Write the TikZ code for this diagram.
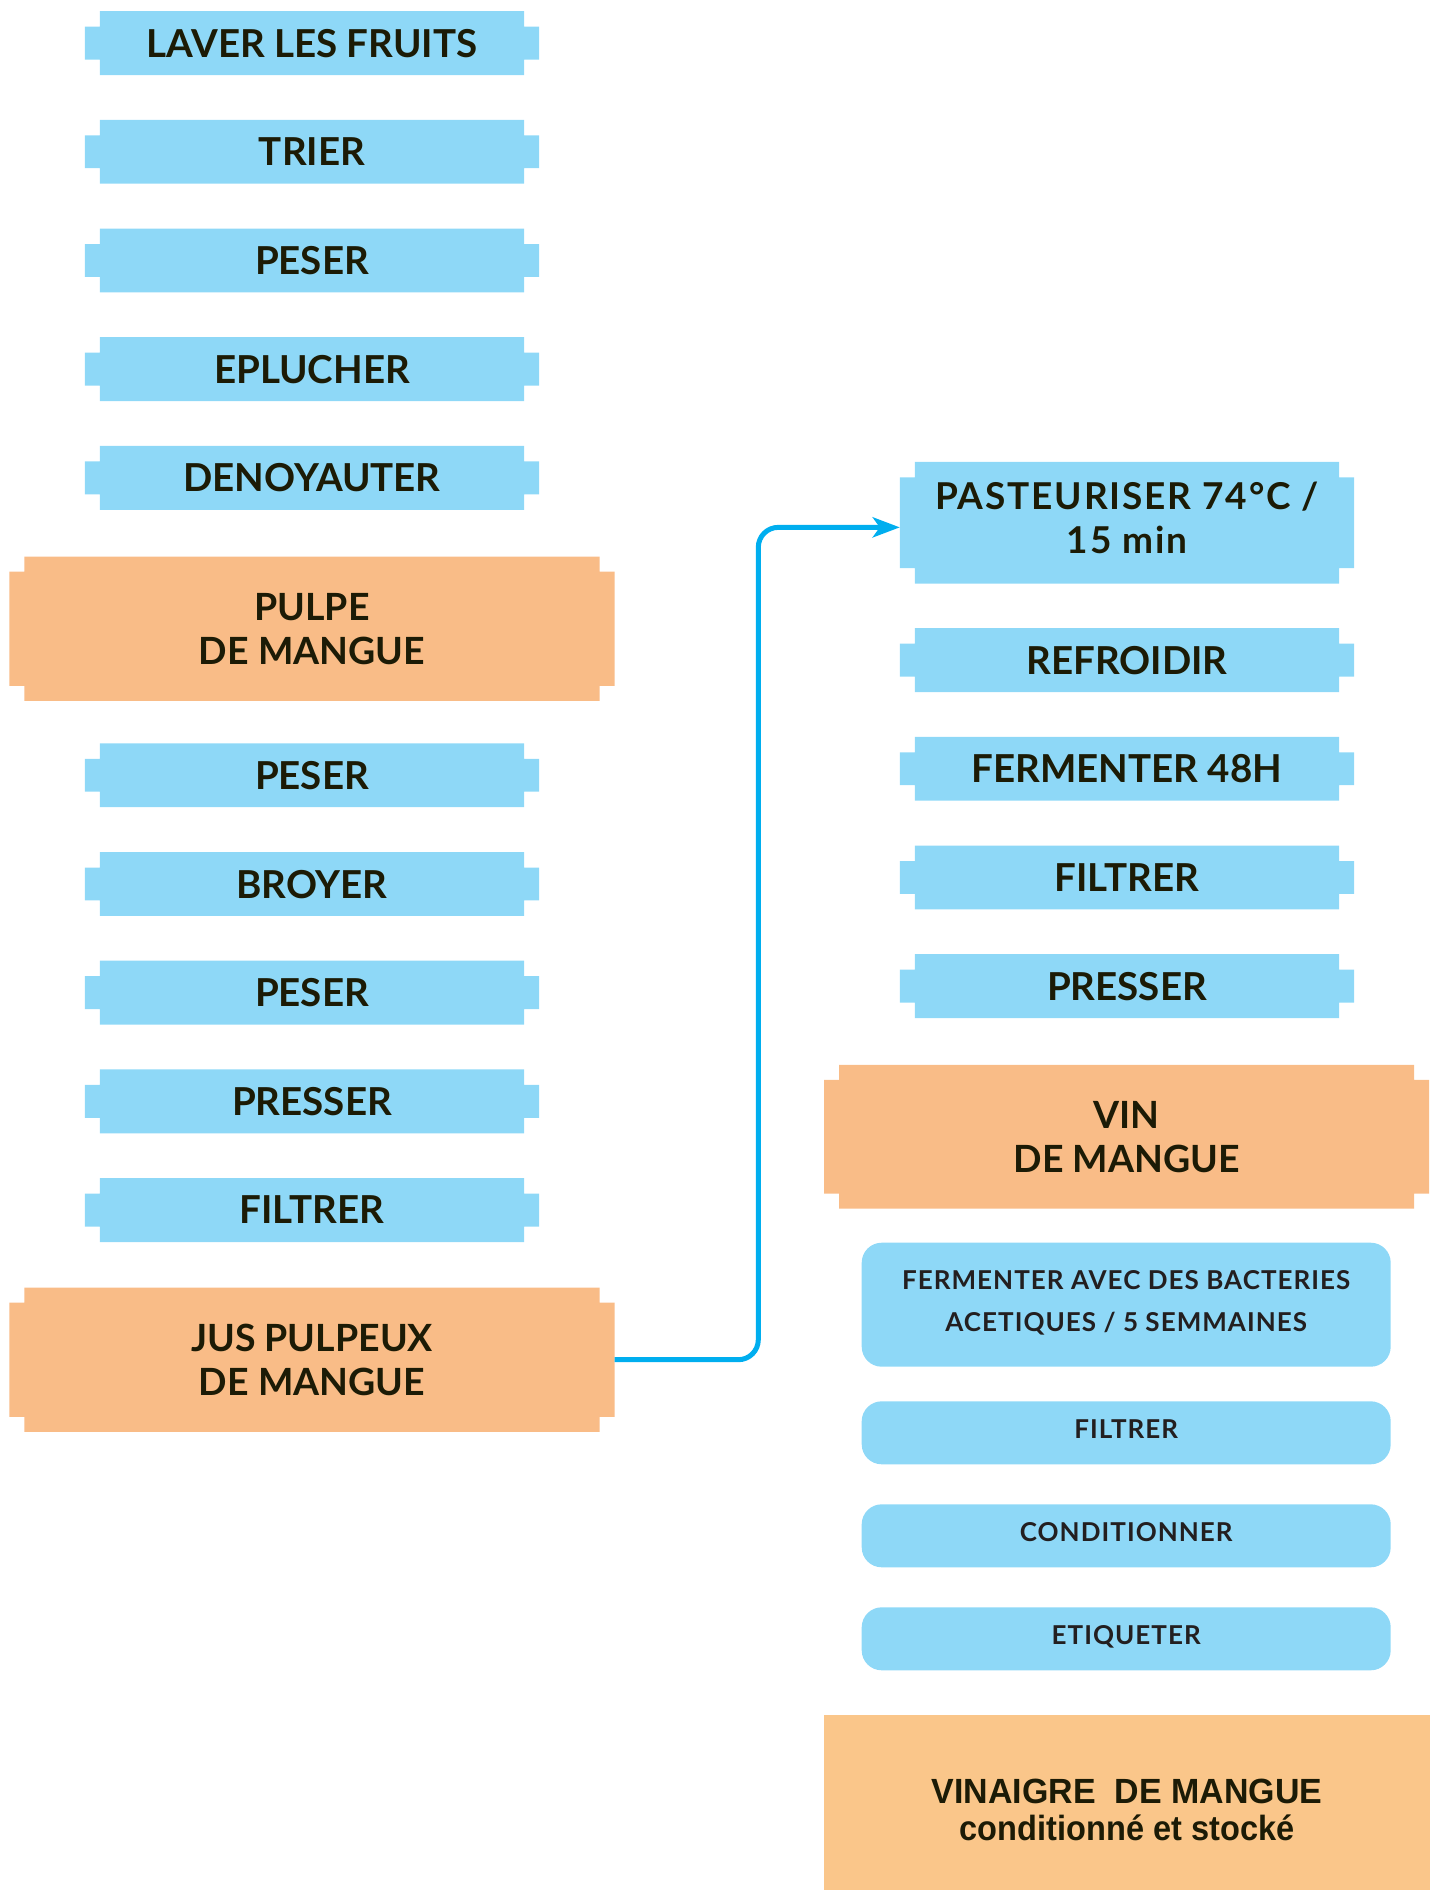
\documentclass[tikz,border=0pt]{standalone}
\usepackage{fontspec}
\usetikzlibrary{arrows.meta}
\newfontfamily\boxfont{Lato}
\newfontfamily\roundfont{Lato}[LetterSpace=4]
\newfontfamily\heatfont{Lato}[LetterSpace=5]
\newfontfamily\condfont{Liberation Sans}[FakeStretch=0.97]
\newfontfamily\condfontB{Liberation Sans}[FakeStretch=0.93]
\definecolor{stepblue}{HTML}{8ED8F7}
\definecolor{prodorange}{HTML}{F9BC87}
\definecolor{endorange}{HTML}{FAC68A}
\definecolor{flowcyan}{HTML}{00AEEF}
\definecolor{ink}{HTML}{1C1B06}
\definecolor{inkgrey}{HTML}{231F20}
\pgfdeclarelayer{bg}
\pgfsetlayers{bg,main}

% fill a rectangle with the four corners cut away (side tabs)
\newcommand\notchfill[4]{%
  \begin{pgfonlayer}{bg}
  \fill[#2] ([xshift=#3]#1.north west) -- ([xshift=-#3]#1.north east)
    -- ([xshift=-#3,yshift=-#4]#1.north east) -- ([yshift=-#4]#1.north east)
    -- ([yshift=#4]#1.south east) -- ([xshift=-#3,yshift=#4]#1.south east)
    -- ([xshift=-#3]#1.south east) -- ([xshift=#3]#1.south west)
    -- ([xshift=#3,yshift=#4]#1.south west) -- ([yshift=#4]#1.south west)
    -- ([yshift=-#4]#1.north west) -- ([xshift=#3,yshift=-#4]#1.north west) -- cycle;
  \end{pgfonlayer}}

\tikzset{
  stepbox/.style={rectangle, inner sep=0pt, minimum width=454pt, minimum height=63.5pt,
    font=\boxfont\bfseries\fontsize{38.5}{44.4}\selectfont, text=ink, text depth=0pt, align=center},
  prodbox/.style={stepbox, minimum width=605pt, minimum height=144pt,
    font=\boxfont\bfseries\fontsize{37.5}{44.4}\selectfont},
  heatbox/.style={stepbox, minimum height=121.3pt, text depth=10pt,
    font=\heatfont\bfseries\fontsize{37}{44.4}\selectfont},
  roundbox/.style={rectangle, rounded corners=20pt, fill=stepblue, inner sep=0pt,
    minimum width=529pt, minimum height=63pt, text depth=7pt,
    font=\roundfont\bfseries\fontsize{26}{42.3}\selectfont, text=inkgrey, align=center},
  endline/.style={anchor=base, inner sep=0pt, text=ink},
  flow/.style={draw=flowcyan, line width=5pt, rounded corners=20pt,
    -{Stealth[length=27pt,width=20pt,inset=7pt]}}
}

\begin{document}
\begin{tikzpicture}[x=1pt,y=-1pt]
\useasboundingbox (0,0) rectangle (1436,1890);

% left column: preparation of the pulp and juice
\node[stepbox] (laver) at (312,43.05) {LAVER LES FRUITS};
\node[stepbox] (trier) at (312,151.75) {TRIER};
\node[stepbox] (peserA) at (312,260.45) {PESER};
\node[stepbox] (eplucher) at (312,369.15) {EPLUCHER};
\node[stepbox] (denoyauter) at (312,477.85) {DENOYAUTER};
\node[prodbox] (pulpe) at (312,628.7) {PULPE\\DE MANGUE};
\node[stepbox] (peserB) at (312,775.25) {PESER};
\node[stepbox] (broyer) at (312,883.95) {BROYER};
\node[stepbox] (peserC) at (312,992.65) {PESER};
\node[stepbox] (presserA) at (312,1101.35) {PRESSER};
\node[stepbox] (filtrerA) at (312,1210.05) {FILTRER};
\node[prodbox] (jus) at (312,1359.7) {JUS PULPEUX\\DE MANGUE};

% right column: wine then vinegar
\node[heatbox] (pasteuriser) at (1127,522.65) {PASTEURISER 74°C /\\15 min};
\node[stepbox] (refroidir) at (1127,660.05) {REFROIDIR};
\node[stepbox] (fermenter) at (1127,768.75) {FERMENTER 48H};
\node[stepbox] (filtrerB) at (1127,877.45) {FILTRER};
\node[stepbox] (presserB) at (1127,986.15) {PRESSER};
\node[prodbox, minimum width=604.7pt, minimum height=143.3pt] (vin) at (1126.65,1136.65) {VIN\\DE MANGUE};

\node[roundbox, minimum height=124pt] (acetique) at (1126.2,1304.7)
  {FERMENTER AVEC DES BACTERIES\\ACETIQUES / 5 SEMMAINES};
\node[roundbox] (filtrerC) at (1126.2,1432.8) {FILTRER};
\node[roundbox] (conditionner) at (1126.2,1535.8) {CONDITIONNER};
\node[roundbox] (etiqueter) at (1126.2,1638.8) {ETIQUETER};

\node[rectangle, fill=endorange, inner sep=0pt, minimum width=606pt, minimum height=175pt]
  (vinaigre) at (1127,1802.5) {};
\node[endline, font=\condfont\bfseries\fontsize{35}{40}\selectfont] (vinaigreA) at (1127,1803)
  {VINAIGRE\ \ DE MANGUE};
\node[endline, font=\condfontB\bfseries\fontsize{35}{40}\selectfont] (vinaigreB) at (1127,1840.7)
  {conditionné et stocké};

% tabbed backgrounds
\foreach \n in {laver,trier,peserA,eplucher,denoyauter,peserB,broyer,peserC,presserA,filtrerA,
                pasteuriser,refroidir,fermenter,filtrerB,presserB}
  {\notchfill{\n}{stepblue}{15pt}{15.5pt}}
\foreach \n in {pulpe,jus,vin}
  {\notchfill{\n}{prodorange}{15pt}{15pt}}

% juice goes on to pasteurisation
\coordinate (riser) at (758.3,940);
\draw[flow] (jus.east) -| (riser) |- ([yshift=-4.7pt]pasteuriser.west);
\end{tikzpicture}
\end{document}
